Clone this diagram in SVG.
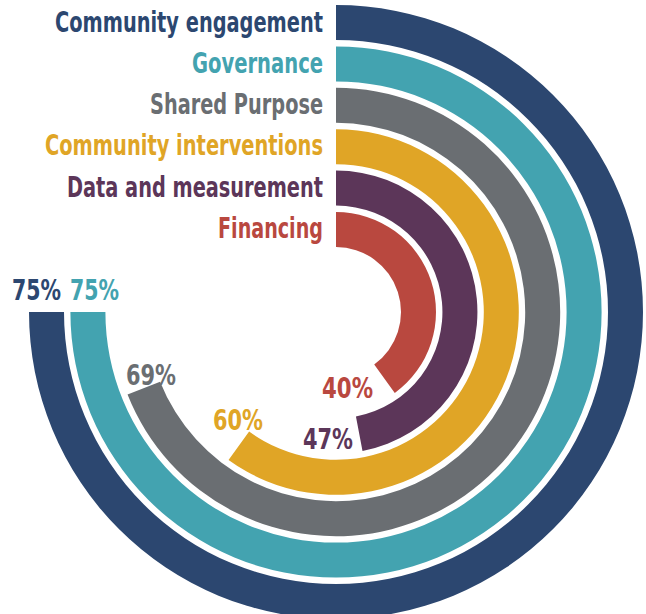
<svg xmlns="http://www.w3.org/2000/svg" width="646" height="614" viewBox="0 0 646 614">
<style>
text{font-family:"Liberation Sans Narrow","DejaVu Sans Condensed","Open Sans","Liberation Sans",sans-serif;font-weight:bold;font-size:28px}
.lbl{text-anchor:end}
.c1{fill:#2C4770}.c2{fill:#43A3B0}.c3{fill:#6A6E72}.c4{fill:#E0A526}.c5{fill:#5C3659}.c6{fill:#B9483F}
</style>
<rect width="646" height="614" fill="#FFFFFF"/>
<g id="community-engagement">
<path class="c1" d="M336,5 A307,307 0 1 1 29,312 L64,312 A272,272 0 1 0 336,40 Z"/>
<text class="lbl c1" x="323" y="32" textLength="268" lengthAdjust="spacingAndGlyphs">Community engagement</text>
<text class="c1" x="12" y="300" textLength="49" lengthAdjust="spacingAndGlyphs">75%</text>
</g>
<g id="governance">
<path class="c2" d="M336,46.4 A265.6,265.6 0 1 1 70.4,312 L105.4,312 A230.6,230.6 0 1 0 336,81.4 Z"/>
<text class="lbl c2" x="323" y="73" textLength="131" lengthAdjust="spacingAndGlyphs">Governance</text>
<text class="c2" x="70" y="300" textLength="49" lengthAdjust="spacingAndGlyphs">75%</text>
</g>
<g id="shared-purpose">
<path class="c3" d="M336,87.8 A224.2,224.2 0 1 1 127.54,394.53 L160.09,381.65 A189.2,189.2 0 1 0 336,122.8 Z"/>
<text class="lbl c3" x="323" y="114" textLength="173" lengthAdjust="spacingAndGlyphs">Shared Purpose</text>
<text class="c3" x="126" y="385" textLength="50" lengthAdjust="spacingAndGlyphs">69%</text>
</g>
<g id="community-interventions">
<path class="c4" d="M336,129.2 A182.8,182.8 0 1 1 228.55,459.89 L249.12,431.57 A147.8,147.8 0 1 0 336,164.2 Z"/>
<text class="lbl c4" x="323" y="155" textLength="278" lengthAdjust="spacingAndGlyphs">Community interventions</text>
<text class="c4" x="213" y="430" textLength="50" lengthAdjust="spacingAndGlyphs">60%</text>
</g>
<g id="data-and-measurement">
<path class="c5" d="M336,170.6 A141.4,141.4 0 0 1 362.5,450.9 L355.94,416.52 A106.4,106.4 0 0 0 336,205.6 Z"/>
<text class="lbl c5" x="323" y="197" textLength="256" lengthAdjust="spacingAndGlyphs">Data and measurement</text>
<text class="c5" x="303" y="449" textLength="50" lengthAdjust="spacingAndGlyphs">47%</text>
</g>
<g id="financing">
<path class="c6" d="M336,212 A100,100 0 0 1 394.78,392.9 L374.21,364.59 A65,65 0 0 0 336,247 Z"/>
<text class="lbl c6" x="323" y="238" textLength="105" lengthAdjust="spacingAndGlyphs">Financing</text>
<text class="c6" x="322" y="398" textLength="51" lengthAdjust="spacingAndGlyphs">40%</text>
</g>
<g id="connectors"/>
</svg>
